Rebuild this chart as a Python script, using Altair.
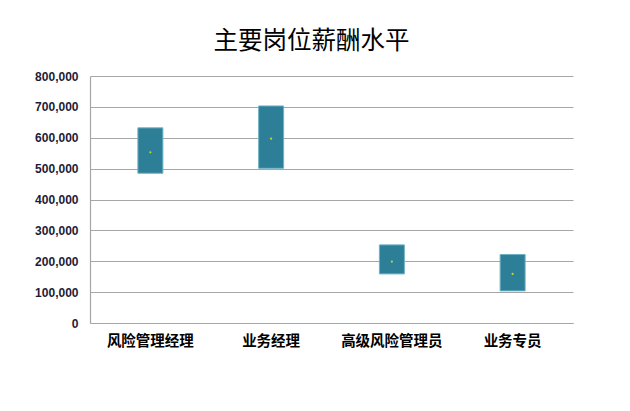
import altair as alt
import pandas as pd

categories = ["风险管理经理", "业务经理", "高级风险管理员", "业务专员"]
low_values = [485000, 501000, 159000, 104000]
high_values = [632000, 703000, 253000, 222000]
mid_values = [553000, 597000, 199000, 159000]
y_ticks = [0, 100000, 200000, 300000, 400000, 500000, 600000, 700000, 800000]

df = pd.DataFrame({"cat": categories, "low": low_values, "high": high_values, "mid": mid_values})

x_axis = alt.Axis(labelAngle=0, labelFont="Noto Sans CJK SC", labelFontSize=14.5,
                  labelFontWeight="bold", labelColor="#000000", labelPadding=11,
                  ticks=False, domainColor="#a6a6a6", domainWidth=1.2, grid=False)
y_axis = alt.Axis(values=y_ticks, labelExpr="format(datum.value, ',.0f')", labelFont="Liberation Sans",
                  labelFontSize=12, labelFontWeight="bold", labelColor="#1c1c38",
                  labelPadding=12, ticks=False, domainColor="#a6a6a6", domainWidth=1.2,
                  gridColor="#a6a6a6", gridWidth=1.2)
x_scale = alt.Scale(paddingInner=0, paddingOuter=0)
y_scale = alt.Scale(domain=[0, 800000], nice=False)

bars = alt.Chart(df).mark_bar(width=25, color="#2C7F97", stroke="#6FB2C6", strokeWidth=1).encode(
    x=alt.X("cat:N", sort=categories, title=None, scale=x_scale, axis=x_axis),
    y=alt.Y("low:Q", scale=y_scale, title=None, axis=y_axis),
    y2="high:Q",
)

points = alt.Chart(df).mark_point(filled=True, color="#c8d42a", size=5, opacity=1).encode(
    x=alt.X("cat:N", sort=categories, title=None, scale=x_scale, axis=x_axis),
    y=alt.Y("mid:Q", scale=y_scale, title=None, axis=y_axis),
)

chart = alt.layer(bars, points).properties(
    width=483, height=247,
    title=alt.TitleParams("主要岗位薪酬水平", font="Noto Sans CJK SC", fontSize=24.5, fontWeight="normal",
                          color="#000000", anchor="middle", offset=16, dx=-20),
    autosize=alt.AutoSizeParams(type="none"),
    padding={"left": 82, "top": 68, "right": 49, "bottom": 80},
).configure_view(stroke=None)

chart.save("out.html", embed_options={"renderer": "svg", "actions": False})
